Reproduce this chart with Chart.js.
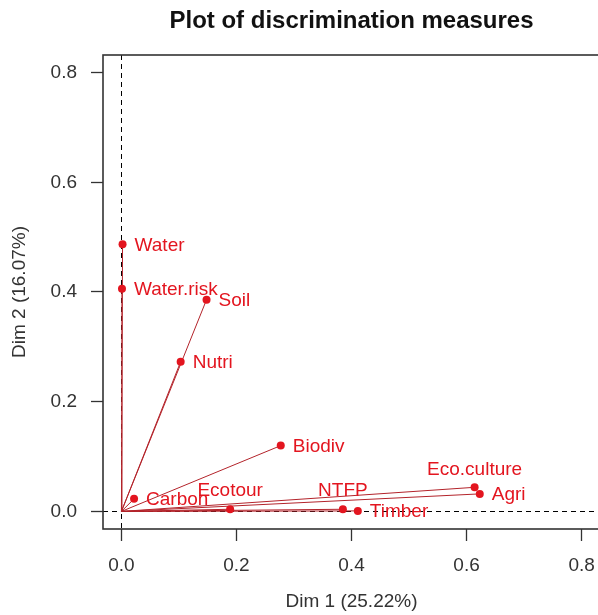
<!DOCTYPE html>
<html>
<head>
<meta charset="utf-8">
<title>Plot of discrimination measures</title>
<script src="https://cdn.jsdelivr.net/npm/chart.js@4/dist/chart.umd.min.js"></script>
<style>
  html, body { margin: 0; padding: 0; background: #fff; overflow: hidden; }
  #wrap { width: 598px; height: 615px; overflow: hidden; position: relative; }
  #mca { position: absolute; left: 0; top: 0; }
</style>
</head>
<body>
<div id="wrap"><canvas id="mca" width="602" height="615"></canvas></div>
<script>
// Discrimination measures of each variable on the first two MCA dimensions
const variables = ['Water', 'Water.risk', 'Soil', 'Nutri', 'Biodiv', 'Carbon',
                   'Ecotour', 'NTFP', 'Timber', 'Eco.culture', 'Agri'];
const dim1 = [0.002, 0.001, 0.148, 0.103, 0.277, 0.022, 0.189, 0.385, 0.411, 0.614, 0.623];
const dim2 = [0.487, 0.406, 0.386, 0.273, 0.120, 0.023, 0.004, 0.004, 0.001, 0.044, 0.032];
const xTicks = [0, 0.2, 0.4, 0.6, 0.8];
const yTicks = [0, 0.2, 0.4, 0.6, 0.8];
const xTitle = 'Dim 1 (25.22%)';
const yTitle = 'Dim 2 (16.07%)';
const mainTitle = 'Plot of discrimination measures';

// labels that sit above their point instead of to the right
const labelAbove = new Set(['Ecotour', 'NTFP', 'Eco.culture']);

const RED = '#e3151f';
const LINE_RED = '#b3232a';
const INK = '#333333';
const FONT = "'Liberation Sans', Arial, sans-serif";

Chart.defaults.font.family = FONT;

const pointData = variables.map((v, i) => ({ x: dim1[i], y: dim2[i] }));

// one segment from the origin to every variable
const segmentSets = variables.map((v, i) => ({
  type: 'line',
  label: v,
  data: [{ x: 0, y: 0 }, { x: dim1[i], y: dim2[i] }],
  borderColor: LINE_RED,
  borderWidth: 1,
  pointRadius: 0,
  fill: false,
  tension: 0
}));

const frame = {
  id: 'frame',
  beforeDatasetsDraw(chart) {
    const { ctx, chartArea: a, scales: { x, y } } = chart;
    ctx.save();
    ctx.strokeStyle = '#000';
    ctx.lineWidth = 1;
    ctx.setLineDash([5, 4]);
    const x0 = Math.round(x.getPixelForValue(0)) + 0.5;
    const y0 = Math.round(y.getPixelForValue(0)) + 0.5;
    ctx.beginPath();
    ctx.moveTo(x0, a.top); ctx.lineTo(x0, a.bottom);
    ctx.moveTo(a.left, y0); ctx.lineTo(a.right, y0);
    ctx.stroke();
    ctx.restore();
  },
  afterDatasetsDraw(chart) {
    const { ctx, chartArea: a, scales: { x, y } } = chart;
    ctx.save();
    // variable names
    ctx.fillStyle = RED;
    ctx.font = '19px ' + FONT;
    variables.forEach((v, i) => {
      const px = x.getPixelForValue(dim1[i]);
      const py = y.getPixelForValue(dim2[i]);
      ctx.textBaseline = 'middle';
      if (labelAbove.has(v)) {
        ctx.textAlign = 'center';
        ctx.fillText(v, px, py - 18);
      } else {
        ctx.textAlign = 'left';
        ctx.fillText(v, px + 12, py + 1);
      }
    });
    // plot box
    ctx.strokeStyle = INK;
    ctx.lineWidth = 1.6;
    ctx.strokeRect(a.left, a.top, a.right - a.left, a.bottom - a.top);
    // main title
    ctx.fillStyle = '#111';
    ctx.font = 'bold 24px ' + FONT;
    ctx.textAlign = 'center';
    ctx.textBaseline = 'middle';
    ctx.fillText(mainTitle, (a.left + a.right) / 2, 21);
    ctx.restore();
  }
};

const keepTicks = list => scale => {
  scale.ticks = list.map(v => ({ value: v }));
};

const noEdgePadding = s => {
  s.paddingLeft = 0; s.paddingRight = 0; s.paddingTop = 0; s.paddingBottom = 0;
};

new Chart(document.getElementById('mca'), {
  type: 'scatter',
  data: {
    datasets: [{
      label: 'variables',
      data: pointData,
      pointRadius: 4,
      pointHoverRadius: 4,
      pointBackgroundColor: RED,
      pointBorderColor: RED,
      pointBorderWidth: 0
    }].concat(segmentSets)
  },
  options: {
    responsive: false,
    animation: false,
    events: [],
    layout: { autoPadding: false, padding: { top: 55, right: 2, left: 0, bottom: 0 } },
    plugins: { legend: { display: false }, tooltip: { enabled: false }, title: { display: false } },
    scales: {
      x: {
        type: 'linear',
        min: -0.032,
        max: 0.832,
        afterBuildTicks: keepTicks(xTicks),
        afterFit: s => { s.height = 86; noEdgePadding(s); },
        border: { display: false },
        grid: { display: true, drawOnChartArea: false, drawTicks: true, tickLength: 12, tickColor: INK, tickWidth: 1.3 },
        ticks: {
          padding: 13,
          color: '#333',
          font: { size: 19 },
          maxRotation: 0,
          callback: v => v.toFixed(1)
        },
        title: { display: true, text: xTitle, color: '#333', font: { size: 19 }, padding: { top: 0, bottom: 2 } }
      },
      y: {
        type: 'linear',
        min: -0.032,
        max: 0.832,
        afterBuildTicks: keepTicks(yTicks),
        afterFit: s => { s.width = 103; noEdgePadding(s); },
        border: { display: false },
        grid: { display: true, drawOnChartArea: false, drawTicks: true, tickLength: 12, tickColor: INK, tickWidth: 1.3 },
        ticks: {
          padding: 14,
          color: '#333',
          font: { size: 19 },
          callback: v => v.toFixed(1)
        },
        title: { display: true, text: yTitle, color: '#333', font: { size: 19 }, padding: { top: 8, bottom: 0 } }
      }
    }
  },
  plugins: [frame]
});
</script>
</body>
</html>
